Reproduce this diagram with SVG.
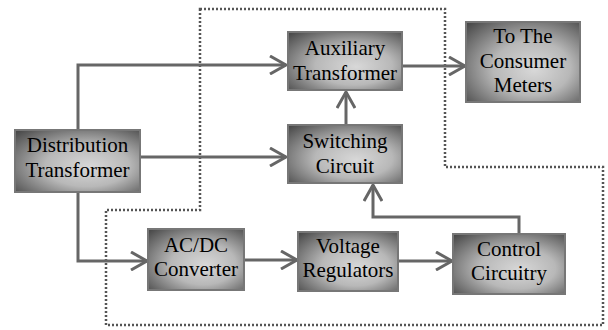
<svg xmlns="http://www.w3.org/2000/svg" width="608" height="330" viewBox="0 0 608 330">
<defs>
<radialGradient id="g" cx="0.55" cy="0.55" r="0.75" fx="0.6" fy="0.6">
<stop offset="0" stop-color="#d8d8d8"/>
<stop offset="0.45" stop-color="#b8b8b8"/>
<stop offset="1" stop-color="#484848"/>
</radialGradient>
<marker id="a" viewBox="0 0 20 20" refX="17" refY="10" markerWidth="20" markerHeight="20" markerUnits="userSpaceOnUse" orient="auto">
<path d="M1,1 L17,10 L1,19" fill="none" stroke="#666" stroke-width="3"/>
</marker>
<style>
.b{fill:url(#g);stroke:#777;stroke-width:2}
.t{font-size:21px;fill:#000;text-anchor:middle}
.c{fill:none;stroke:#666;stroke-width:3;marker-end:url(#a)}
.d{fill:none;stroke:#555;stroke-width:2.5;stroke-dasharray:2 2}
</style>
</defs>
<rect width="608" height="330" fill="#fff"/>
<path class="d" d="M200,9 H445 V167 H603 V325 H106 V210 H200 Z"/>
<g id="connectors">
<path class="c" d="M78,130 V65 H286"/>
<path class="c" d="M140,157 H286"/>
<path class="c" d="M78,192 V261 H147"/>
<path class="c" d="M244,260 H297"/>
<path class="c" d="M398,261 H452"/>
<path class="c" d="M519,234 V217 H373 V185"/>
<path class="c" d="M346,125 V92"/>
<path class="c" d="M402,66 H465"/>
</g>
<g font-family="'Liberation Serif', 'Times New Roman', 'DejaVu Serif', serif">
<g id="distribution"><rect class="b" x="15" y="130" width="125" height="62"/><text class="t" x="77.5" y="152">Distribution</text><text class="t" x="77.5" y="177">Transformer</text></g>
<g id="auxiliary"><rect class="b" x="288" y="32" width="114" height="58"/><text class="t" x="345" y="55">Auxiliary</text><text class="t" x="345" y="80">Transformer</text></g>
<g id="switching"><rect class="b" x="288" y="125" width="114" height="58"/><text class="t" x="345" y="148">Switching</text><text class="t" x="345" y="173">Circuit</text></g>
<g id="consumer"><rect class="b" x="466" y="22" width="114" height="80"/><text class="t" x="523" y="43">To The</text><text class="t" x="523" y="67.5">Consumer</text><text class="t" x="523" y="92">Meters</text></g>
<g id="acdc"><rect class="b" x="148" y="229" width="96" height="61"/><text class="t" x="196" y="252">AC/DC</text><text class="t" x="196" y="276">Converter</text></g>
<g id="voltage"><rect class="b" x="298" y="232" width="100" height="59"/><text class="t" x="348" y="253">Voltage</text><text class="t" x="348" y="277">Regulators</text></g>
<g id="control"><rect class="b" x="453" y="234" width="112" height="60"/><text class="t" x="509" y="256">Control</text><text class="t" x="509" y="280">Circuitry</text></g>
</g>
</svg>
